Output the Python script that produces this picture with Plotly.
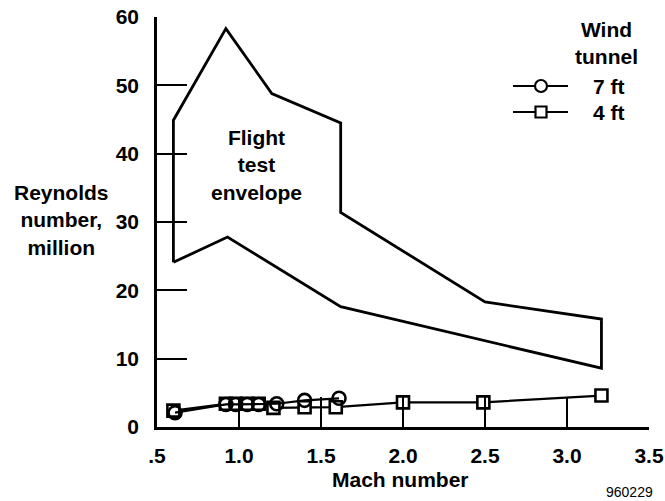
import plotly.graph_objects as go

# Flight test envelope (Mach number, Reynolds number in millions), closed polygon
env_mach = [0.60, 0.60, 0.92, 1.20, 1.62, 1.62, 2.50, 3.21, 3.21, 1.62, 0.93, 0.60]
env_re = [24.1, 44.9, 58.3, 48.8, 44.5, 31.4, 18.3, 15.8, 8.6, 17.6, 27.8, 24.1]

# Wind tunnel test points
ft7_mach = [0.61, 0.92, 0.98, 1.05, 1.12, 1.23, 1.40, 1.61]
ft7_re = [2.1, 3.3, 3.3, 3.3, 3.3, 3.4, 3.9, 4.2]

ft4_mach = [0.60, 0.92, 0.98, 1.05, 1.12, 1.21, 1.40, 1.59, 2.00, 2.49, 3.21]
ft4_re = [2.4, 3.4, 3.4, 3.4, 3.4, 2.8, 2.9, 2.9, 3.6, 3.6, 4.6]

x_ticks = [0.5, 1.0, 1.5, 2.0, 2.5, 3.0, 3.5]
x_labels = [".5", "1.0", "1.5", "2.0", "2.5", "3.0", "3.5"]
y_ticks = [0, 10, 20, 30, 40, 50, 60]

FONT = "Liberation Sans"
BOLD = dict(family=FONT, size=21, color="black", weight="bold")

fig = go.Figure()

fig.add_trace(go.Scatter(
    x=env_mach, y=env_re, mode="lines",
    line=dict(color="black", width=2.8),
    showlegend=False, hoverinfo="skip", cliponaxis=False,
))
fig.add_trace(go.Scatter(
    x=ft4_mach, y=ft4_re, mode="lines+markers", name="4 ft",
    line=dict(color="black", width=2.2),
    marker=dict(symbol="square", size=12, color="white",
                line=dict(color="black", width=2.6)),
    showlegend=False, cliponaxis=False,
))
fig.add_trace(go.Scatter(
    x=ft7_mach, y=ft7_re, mode="lines+markers", name="7 ft",
    line=dict(color="black", width=2.2),
    marker=dict(symbol="circle", size=13, color="rgba(0,0,0,0)",
                line=dict(color="black", width=2.6)),
    showlegend=False, cliponaxis=False,
))

# Plot area in pixels: x 157..649, y 17..427
L, R, T, B = 157, 649, 17, 427
W, H = R - L, B - T


def px(xp):
    return (xp - L) / W


def py(yp):
    return (B - yp) / H


def label(text, x, y, xanchor="center", **kw):
    return dict(text=text, x=px(x), y=py(y), xref="paper", yref="paper",
                xanchor=xanchor, yanchor="middle", showarrow=False,
                font=kw.pop("font", BOLD), align="center", **kw)


ROW1, ROW2 = 86, 112

annotations = [
    label("Flight<br>test<br>envelope", 256, 165),
    label("Reynolds<br>number,<br>million", 61, 220),
    label("Mach number", 400, 479),
    label("960229", 655, 492, xanchor="right",
          font=dict(family=FONT, size=14, color="black")),
    label("Wind<br>tunnel", 606, 43),
    label("7 ft", 591, ROW1, xanchor="left"),
    label("4 ft", 591, ROW2, xanchor="left"),
]

shapes = [
    # legend key lines
    dict(type="line", xref="paper", yref="paper", x0=px(513), x1=px(568),
         y0=py(ROW1), y1=py(ROW1), line=dict(color="black", width=2.2)),
    dict(type="line", xref="paper", yref="paper", x0=px(513), x1=px(568),
         y0=py(ROW2), y1=py(ROW2), line=dict(color="black", width=2.2)),
    # legend key symbols
    dict(type="circle", xref="paper", yref="paper", xsizemode="pixel",
         ysizemode="pixel", xanchor=px(541), yanchor=py(ROW1),
         x0=-6, x1=6, y0=-6, y1=6, fillcolor="white",
         line=dict(color="black", width=2.2)),
    dict(type="rect", xref="paper", yref="paper", xsizemode="pixel",
         ysizemode="pixel", xanchor=px(541), yanchor=py(ROW2),
         x0=-5.5, x1=5.5, y0=-5.5, y1=5.5, fillcolor="white",
         line=dict(color="black", width=2.2)),
]

fig.update_layout(
    width=665, height=501,
    margin=dict(l=L, r=665 - R, t=T, b=501 - B, autoexpand=False),
    paper_bgcolor="white", plot_bgcolor="white",
    font=dict(family=FONT, size=21, color="black"),
    annotations=annotations, shapes=shapes,
    showlegend=False,
)
fig.update_xaxes(
    range=[0.5, 3.5], tickvals=x_ticks, ticktext=x_labels, automargin=False,
    showgrid=False, zeroline=False, showline=True, linecolor="black",
    linewidth=2.5, ticks="inside", ticklen=30, tickwidth=1.5, tickcolor="black",
    tickfont=BOLD, ticklabelstandoff=8,
)
fig.update_yaxes(
    range=[0, 60], tickvals=y_ticks, automargin=False,
    showgrid=False, zeroline=False, showline=True, linecolor="black",
    linewidth=2.5, ticks="inside", ticklen=30, tickwidth=1.5, tickcolor="black",
    tickfont=BOLD, ticklabelstandoff=11,
)

fig.write_html("out.html")
